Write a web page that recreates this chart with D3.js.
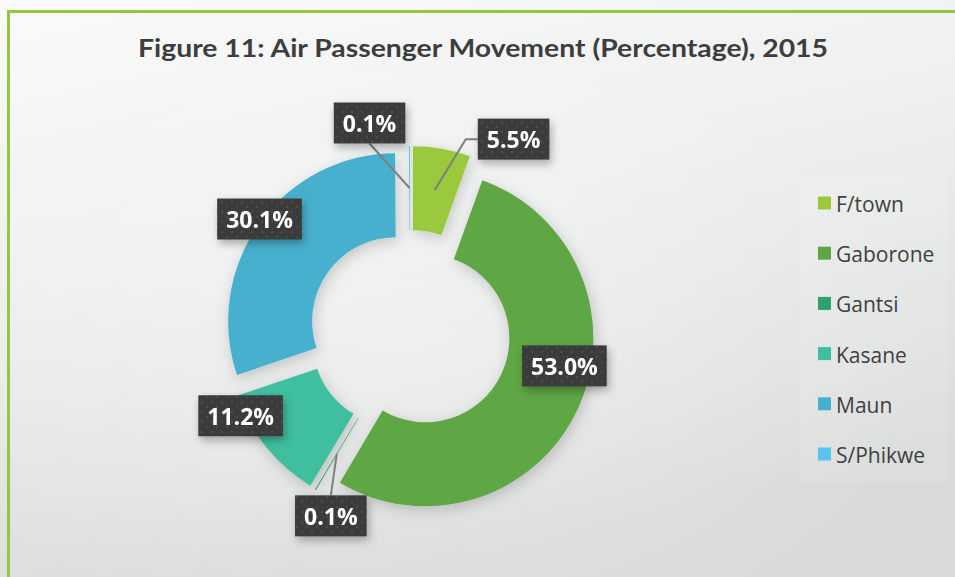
<!DOCTYPE html>
<html>
<head>
<meta charset="utf-8">
<script src="https://cdn.jsdelivr.net/npm/d3@7"></script>
<style>
  html, body { margin: 0; padding: 0; background: #ffffff; }
  svg { display: block; }
</style>
</head>
<body>
<svg id="chart" width="955" height="577"></svg>
<script>
// Share of air passenger movement by airport, 2015 (%)
const airports = ["F/town", "Gaborone", "Gantsi", "Kasane", "Maun", "S/Phikwe"];
const shares = [5.5, 53.0, 0.1, 11.2, 30.1, 0.1];
const labelTexts = ["5.5%", "53.0%", "0.1%", "11.2%", "30.1%", "0.1%"];
const sliceColors = ["#9bc93c", "#5fa645", "#2f9f6d", "#3fbea0", "#47b0cf", "#5bc4ee"];
const titleText = "Figure 11: Air Passenger Movement (Percentage), 2015";

// Label box placement relative to each slice's centroid
const labelShift = [[79, -51], [25, -26], [-6, 62], [-58, -5], [-34, -29], [-40, -65]];

const W = 955, H = 577;
const cx = 410, cy = 331;
const outerR = 168, innerR = 84, explode = 17;

const svg = d3.select("#chart");
const defs = svg.append("defs");

// Background gradients
const bg = defs.append("linearGradient").attr("id", "bg")
  .attr("x1", "0").attr("y1", "0").attr("x2", "0.35").attr("y2", "1");
bg.append("stop").attr("offset", "0").attr("stop-color", "#fafafa");
bg.append("stop").attr("offset", "0.45").attr("stop-color", "#eeefef");
bg.append("stop").attr("offset", "1").attr("stop-color", "#d9dada");

const glow = defs.append("radialGradient").attr("id", "glow")
  .attr("cx", "0.43").attr("cy", "0.6").attr("r", "0.55");
glow.append("stop").attr("offset", "0").attr("stop-color", "#ffffff").attr("stop-opacity", 0.35);
glow.append("stop").attr("offset", "1").attr("stop-color", "#ffffff").attr("stop-opacity", 0);

// Soft shadows
const sh = defs.append("filter").attr("id", "sliceShadow")
  .attr("x", "-30%").attr("y", "-30%").attr("width", "160%").attr("height", "160%");
sh.append("feDropShadow").attr("dx", 2).attr("dy", 4).attr("stdDeviation", 7)
  .attr("flood-color", "#000").attr("flood-opacity", 0.18);

const lsh = defs.append("filter").attr("id", "labelShadow")
  .attr("x", "-30%").attr("y", "-30%").attr("width", "160%").attr("height", "180%");
lsh.append("feDropShadow").attr("dx", 2).attr("dy", 4).attr("stdDeviation", 4)
  .attr("flood-color", "#000").attr("flood-opacity", 0.3);

// Dotted texture for the label boxes
const pat = defs.append("pattern").attr("id", "dots")
  .attr("patternUnits", "userSpaceOnUse").attr("width", 10).attr("height", 10);
pat.append("rect").attr("width", 10).attr("height", 10).attr("fill", "#3b3b3b");
pat.append("rect").attr("x", 1).attr("y", 1).attr("width", 2).attr("height", 2).attr("fill", "#505050");
pat.append("rect").attr("x", 6).attr("y", 6).attr("width", 2).attr("height", 2).attr("fill", "#484848");

svg.append("rect").attr("width", W).attr("height", H).attr("fill", "url(#bg)");
svg.append("rect").attr("width", W).attr("height", H).attr("fill", "url(#glow)");

// Green frame (top and left edges)
svg.append("path")
  .attr("d", `M8.5,${H} L8.5,11.5 L${W},11.5`)
  .attr("fill", "none").attr("stroke", "#92c83e").attr("stroke-width", 3);

// Title
svg.append("text")
  .attr("x", 483).attr("y", 57)
  .attr("text-anchor", "middle")
  .attr("textLength", 690).attr("lengthAdjust", "spacingAndGlyphs")
  .style("font-family", "Lato, 'Open Sans', sans-serif")
  .style("font-weight", "700").style("font-size", "25px")
  .attr("fill", "#3d3d3d")
  .text(titleText);

// Donut
const data = airports.map((name, i) => ({ name, value: shares[i], label: labelTexts[i], color: sliceColors[i], shift: labelShift[i] }));
const pie = d3.pie().sort(null).value(d => d.value).startAngle(0).endAngle(2 * Math.PI);
const arcs = pie(data);
const arc = d3.arc().innerRadius(innerR).outerRadius(outerR);

const offsetOf = a => {
  const mid = (a.startAngle + a.endAngle) / 2;
  return [explode * Math.sin(mid), -explode * Math.cos(mid)];
};

const donut = svg.append("g").attr("transform", `translate(${cx},${cy})`)
  .attr("filter", "url(#sliceShadow)");
donut.selectAll("path").data(arcs).join("path")
  .attr("transform", a => { const o = offsetOf(a); return `translate(${o[0]},${o[1]})`; })
  .attr("d", arc)
  .attr("fill", a => a.data.color);

// Data labels with leader lines
const labelLayer = svg.append("g");
arcs.forEach(a => {
  const o = offsetOf(a);
  const c = arc.centroid(a);
  const px = cx + c[0] + o[0], py = cy + c[1] + o[1];
  const bx = px + a.data.shift[0], by = py + a.data.shift[1];

  const g = labelLayer.append("g");
  const t = g.append("text")
    .attr("x", bx).attr("y", by)
    .attr("text-anchor", "middle").attr("dominant-baseline", "central")
    .style("font-family", "'Open Sans', sans-serif")
    .style("font-weight", "700").style("font-size", "23px")
    .attr("fill", "#ffffff")
    .text(a.data.label);
  const tw = t.node().getComputedTextLength();
  const bw = tw + 18, bh = 41;
  const x0 = bx - bw / 2, y0 = by - bh / 2;

  // leader lines for the small slices whose labels sit outside
  if (a.value < 6) {
    let pts;
    if (px < x0 && a.data.shift[0] > 40) pts = [[px, py], [x0 - 12, by], [x0, by]];
    else if (py > y0 + bh) pts = [[px, py], [bx, y0 + bh]];
    else pts = [[px, py], [bx, y0]];
    labelLayer.insert("path", ":first-child")
      .attr("d", d3.line()(pts))
      .attr("fill", "none").attr("stroke", "#7f7f7f").attr("stroke-width", 2);
  }

  g.insert("rect", "text")
    .attr("x", x0).attr("y", y0).attr("width", bw).attr("height", bh)
    .attr("fill", "url(#dots)").attr("filter", "url(#labelShadow)");
});

// Legend
const legend = svg.append("g");
legend.append("rect").attr("x", 800).attr("y", 176).attr("width", 148).attr("height", 306)
  .attr("fill", "#ffffff").attr("opacity", 0.1);
const rowY = d3.scalePoint().domain(airports).range([203, 454]);
const items = legend.selectAll("g.item").data(data).join("g").attr("class", "item")
  .attr("transform", d => `translate(818,${rowY(d.name)})`);
items.append("rect").attr("x", 0).attr("y", -6.5).attr("width", 13).attr("height", 13)
  .attr("fill", d => d.color);
items.append("text").attr("x", 18).attr("y", 1).attr("dominant-baseline", "central")
  .style("font-family", "'Open Sans', sans-serif").style("font-size", "21px")
  .attr("fill", "#3f3f3f")
  .text(d => d.name);
</script>
</body>
</html>
